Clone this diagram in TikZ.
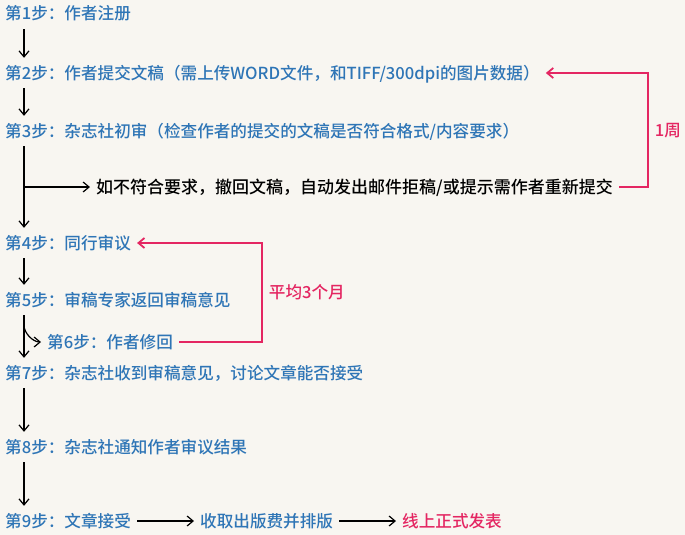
\documentclass[tikz,border=0pt]{standalone}
\usepackage{fontspec}
\setmainfont{Noto Sans CJK SC}[UprightFont=* Medium]
\usetikzlibrary{arrows.meta}
\definecolor{stepblue}{RGB}{46,117,182}
\definecolor{markred}{RGB}{228,38,98}
\definecolor{paper}{RGB}{248,246,241}

\begin{document}
\begin{tikzpicture}[x=1pt,y=-1pt,
    stepnode/.style={anchor=west, inner xsep=6pt, inner ysep=7pt, text height=14pt, text depth=2pt,
      text=stepblue, font=\fontsize{16.6}{20}\selectfont},
    notenode/.style={stepnode, text=black, font=\fontsize{17}{20}\selectfont},
    marknode/.style={stepnode, text=markred},
    flow/.style={-{Straight Barb[length=6pt,width=10pt]}, line width=1.2pt},
    back/.style={-{Straight Barb[length=6pt,width=10pt]}, draw=markred, line width=1.8pt}]
    \fill[paper] (0,0) rectangle (685,535);
    \useasboundingbox (0,0) rectangle (685,535);
    \coordinate (spine) at (24,0);
    \coordinate (loopA) at (648,0);
    \coordinate (loopB) at (262,0);
    \node[stepnode] (s1) at (-1,14) {第1步：作者注册};
    \node[stepnode] (s2) at (-1,73) {第2步：作者提交文稿（需上传WORD文件，和TIFF/300dpi的图片数据）};
    \node[stepnode] (s3) at (-1,131) {第3步：杂志社初审（检查作者的提交的文稿是否符合格式/内容要求）};
    \node[notenode] (rej) at (90,187) {如不符合要求，撤回文稿，自动发出邮件拒稿/或提示需作者重新提交};
    \node[stepnode] (s4) at (-1,243) {第4步：同行审议};
    \node[stepnode] (s5) at (-1,300) {第5步：审稿专家返回审稿意见};
    \node[stepnode] (s6) at (41,342) {第6步：作者修回};
    \node[stepnode] (s7) at (-1,373) {第7步：杂志社收到审稿意见，讨论文章能否接受};
    \node[stepnode] (s8) at (-1,447) {第8步：杂志社通知作者审议结果};
    \node[stepnode] (s9) at (-1,521) {第9步：文章接受};
    \node[stepnode] (pay) at (194,521) {收取出版费并排版};
    \node[marknode] (pub) at (396,521) {线上正式发表};
    \draw[flow] (s1.south -| spine) -- (s2.north -| spine);
    \draw[flow] (s2.south -| spine) -- (s3.north -| spine);
    \draw[flow] (s3.south -| spine) -- (s4.north -| spine);
    \draw[flow] (spine |- rej.west) -- (rej.west);
    \draw[flow] (s4.south -| spine) -- (s5.north -| spine);
    \draw[flow] (s5.south -| spine) -- (s7.north -| spine);
    \draw[flow] (s5.south -| spine) ++(0,10) .. controls +(0,8) and +(-8,0) .. (s6.west);
    \draw[flow] (s7.south -| spine) -- (s8.north -| spine);
    \draw[flow] (s8.south -| spine) -- (s9.north -| spine);
    \draw[flow] (s9.east) -- (pay.west);
    \draw[flow] (pay.east) -- (pub.west);
    \draw[back] (rej.east) -- (rej.east -| loopA) |- node[marknode, pos=0.25, anchor=west] (wk) {1周} (s2.east);
    \draw[back] (s6.east) -- (s6.east -| loopB) |- node[marknode, pos=0.25, anchor=west] (mo) {平均3个月} (s4.east);
  \end{tikzpicture}
\end{document}
